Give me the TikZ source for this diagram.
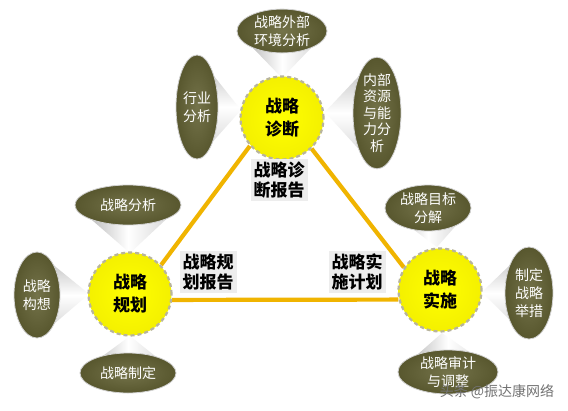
\documentclass[tikz,border=0pt]{standalone}
\usepackage{fontspec}
\newfontfamily\cjk{Noto Sans CJK SC}
\usetikzlibrary{shapes.geometric}
\pgfdeclarelayer{bg}
\pgfsetlayers{bg,main}
\definecolor{oliveA}{HTML}{58572E}
\definecolor{oliveB}{HTML}{74734A}
\definecolor{gold}{HTML}{F0B400}
\definecolor{dashc}{HTML}{B8B49C}
\definecolor{yel}{HTML}{FFFF00}
\definecolor{yelB}{HTML}{F4F000}
\begin{document}
\begin{tikzpicture}[x=1pt,y=-1pt,
  hub/.style={circle, minimum size=83pt, inner sep=0pt, inner color=yel, outer color=yelB,
    draw=dashc, line width=2.2pt, dash pattern=on 4pt off 3pt,
    font=\cjk\bfseries\fontsize{17}{23}\selectfont, align=center},
  olv/.style={ellipse, inner sep=0pt, inner color=oliveB, outer color=oliveA, draw=gray!35, line width=0.8pt,
    text=white, font=\cjk\fontsize{14}{18}\selectfont, align=center},
  rep/.style={font=\cjk\bfseries\fontsize{17}{20}\selectfont, align=center, inner sep=3pt, fill=black!7},
  link/.style={draw=gold, line width=4.2pt},
  vcone/.style={left color=black!36, right color=black!20, middle color=white},
  hcone/.style={top color=black!30, bottom color=black!20, middle color=white},
  wmk/.style={font=\cjk\fontsize{14}{16}\selectfont, text=black!55}
]
\useasboundingbox (0,0) rectangle (568,410);

% hubs
\node[hub] (T) at (282,118) {战略\\诊断};
\node[hub] (L) at (130,294) {战略\\规划};
\node[hub] (R) at (440,290) {战略\\实施};

% ellipses
\node[olv, minimum width=90pt, minimum height=40pt] (e1) at (282,31) {战略外部\\环境分析};
\node[olv, minimum width=42pt, minimum height=104pt] (e2) at (197,107) {行业\\分析};
\node[olv, minimum width=48pt, minimum height=106pt, font=\cjk\fontsize{14}{16.5}\selectfont] (e3) at (377,113) {内部\\资源\\与能\\力分\\析};
\node[olv, minimum width=106pt, minimum height=40pt] (e4) at (128,205) {战略分析};
\node[olv, minimum width=46pt, minimum height=86pt] (e5) at (37,295) {战略\\构想};
\node[olv, minimum width=96pt, minimum height=40pt] (e6) at (128,373) {战略制定};
\node[olv, minimum width=86pt, minimum height=46pt] (e7) at (428,208) {战略目标\\分解};
\node[olv, minimum width=48pt, minimum height=92pt] (e8) at (529,293) {制定\\战略\\举措};
\node[olv, minimum width=100pt, minimum height=44pt] (e9) at (448,372) {战略审计\\与调整};

% cone apexes
\coordinate (a1) at (282,78);
\coordinate (a2) at (241,110);
\coordinate (a3) at (325,112);
\coordinate (a4) at (130,253);
\coordinate (a5) at (89,294);
\coordinate (a6) at (130,336);
\coordinate (a7) at (437,247);
\coordinate (a8) at (482,292);
\coordinate (a9) at (442,333);

\begin{pgfonlayer}{bg}
  \fill[white] (0,0) rectangle (568,410);
  \path[vcone] (e1.west) -- (a1) -- (e1.east) -- cycle;
  \path[hcone] (e2.north) -- (a2) -- (e2.south) -- cycle;
  \path[hcone] (e3.north) -- (a3) -- (e3.south) -- cycle;
  \path[vcone] (e4.west) -- (a4) -- (e4.east) -- cycle;
  \path[hcone] (e5.north) -- (a5) -- (e5.south) -- cycle;
  \path[vcone] (e6.west) -- (a6) -- (e6.east) -- cycle;
  \path[vcone] (e7.west) -- (a7) -- (e7.east) -- cycle;
  \path[hcone] (e8.north) -- (a8) -- (e8.south) -- cycle;
  \path[vcone] (e9.west) -- (a9) -- (e9.east) -- cycle;
  % links
  \draw[link] (T.221) -- (L.43);
  \draw[link] (T.314) -- (R.148);
  \draw[link] (L.-8) -- (R.193);
\end{pgfonlayer}

% report labels
\node[rep] (r1) at (279,180) {战略诊\\断报告};
\node[rep] (r2) at (208,272) {战略规\\划报告};
\node[rep] (r3) at (357,272) {战略实\\施计划};

% watermark
\node[wmk] (wm) at (497,392) {头条 @振达康网络};
\end{tikzpicture}
\end{document}
